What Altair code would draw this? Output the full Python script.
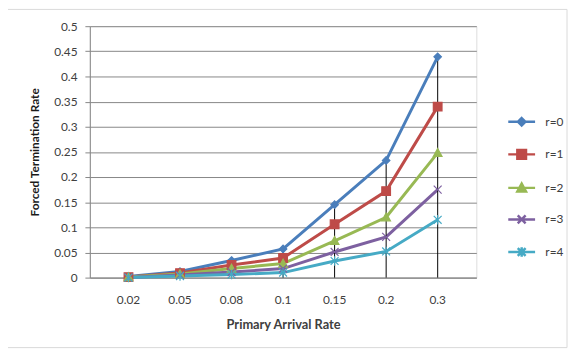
import altair as alt
import pandas as pd

x_labels = ["0.02", "0.05", "0.08", "0.1", "0.15", "0.2", "0.3"]
series_names = ["r=0", "r=1", "r=2", "r=3", "r=4"]
r0 = [0.002, 0.012, 0.034, 0.057, 0.145, 0.233, 0.439]
r1 = [0.001, 0.009, 0.025, 0.039, 0.106, 0.172, 0.340]
r2 = [0.001, 0.007, 0.018, 0.028, 0.073, 0.120, 0.248]
r3 = [0.000, 0.005, 0.011, 0.018, 0.051, 0.081, 0.175]
r4 = [0.000, 0.003, 0.006, 0.010, 0.033, 0.052, 0.115]
y_ticks = [0, 0.05, 0.1, 0.15, 0.2, 0.25, 0.3, 0.35, 0.4, 0.45, 0.5]
colors = ["#4A7EBB", "#BE4B48", "#98B954", "#7D60A0", "#46AAC5"]

all_series = [r0, r1, r2, r3, r4]
rows = []
for name, vals in zip(series_names, all_series):
    for xl, v in zip(x_labels, vals):
        rows.append({"x": xl, "series": name, "value": v})
df = pd.DataFrame(rows)

marker_paths = [
    "M0,-0.95L0.95,0L0,0.95L-0.95,0Z",
    "M-1.1,-1.1H1.1V1.1H-1.1Z",
    "M0,-1.1L1.1,0.9L-1.1,0.9Z",
    "M-1,-1L1,1M-1,1L1,-1",
    "M-1,-1L1,1M-1,1L1,-1M0,-1.2V1.2",
]
legend_paths = ["M-3.4,0H3.4" + p for p in marker_paths]

FONT = "Lato"
GRAY = "#868686"
TXT = "#404040"

x_axis = alt.Axis(title="Primary Arrival Rate", labelAngle=0, ticks=False,
                  domainColor=GRAY, labelPadding=17, titlePadding=14,
                  labelFont=FONT, labelFontSize=12, labelColor=TXT,
                  titleFont=FONT, titleFontWeight="bold", titleFontSize=13,
                  titleColor=TXT)
y_axis = alt.Axis(title="Forced Termination Rate", values=y_ticks,
                  format=".2~f", labelOverlap=False, tickSize=5, tickColor=GRAY,
                  domainColor=GRAY, gridColor=GRAY, grid=True, labelPadding=8,
                  titlePadding=12, labelFont=FONT, labelFontSize=12, labelColor=TXT,
                  titleFont=FONT, titleFontWeight="bold", titleFontSize=12,
                  titleColor="#1a1a1a")


def xe(field="x:O"):
    return alt.X(field, sort=x_labels, scale=alt.Scale(padding=0.5), axis=x_axis)


def ye(field="value:Q"):
    return alt.Y(field, scale=alt.Scale(domain=[0, 0.5], nice=False), axis=y_axis)


def cscale():
    return alt.Scale(domain=series_names, range=colors)


base = alt.Chart(df)

lines = base.mark_line(strokeWidth=3).encode(
    x=xe(), y=ye(),
    color=alt.Color("series:N", scale=cscale(), legend=None),
)

rules = base.transform_aggregate(
    top="max(value)", groupby=["x"]
).mark_rule(color="black", strokeWidth=1).encode(
    x=xe(), y=ye("top:Q"), y2=alt.datum(0)
)

points = base.mark_point(filled=True, size=64, strokeWidth=1.2, opacity=1).encode(
    x=xe(), y=ye(),
    fill=alt.Fill("series:N", scale=cscale(), legend=None),
    stroke=alt.Stroke("series:N", scale=cscale(), legend=None),
    shape=alt.Shape("series:N", scale=alt.Scale(domain=series_names, range=marker_paths), legend=None),
)

leg = dict(title=None, orient="none", legendX=432, legendY=91,
           symbolSize=64, labelOffset=18, rowPadding=14,
           symbolStrokeWidth=2.5, symbolOpacity=1,
           labelFont=FONT, labelFontSize=12, labelColor=TXT)

legend_layer = base.transform_filter("false").mark_point(filled=True, opacity=1).encode(
    x=xe(), y=ye(),
    fill=alt.Fill("series:N", scale=cscale(), legend=alt.Legend(**leg)),
    stroke=alt.Stroke("series:N", scale=cscale(), legend=alt.Legend(**leg)),
    shape=alt.Shape("series:N", scale=alt.Scale(domain=series_names, range=legend_paths),
                    legend=alt.Legend(**leg)),
)

border = alt.Chart(alt.Data(values=[{"a": 1}])).mark_rect(
    fillOpacity=0, stroke="#D9D9D9", strokeWidth=1
).encode(x=alt.value(-86), x2=alt.value(484), y=alt.value(-17), y2=alt.value(326))

chart = alt.layer(border, lines, rules, points, legend_layer).resolve_scale(
    shape="independent", fill="independent", stroke="independent"
).properties(
    width=392, height=255,
    autosize=alt.AutoSizeParams(type="none"),
    padding={"left": 83, "top": 16, "right": 94, "bottom": 72},
).configure_view(stroke=None).configure(background="white")

chart.save("out.html", embed_options={"renderer": "svg", "actions": False})
